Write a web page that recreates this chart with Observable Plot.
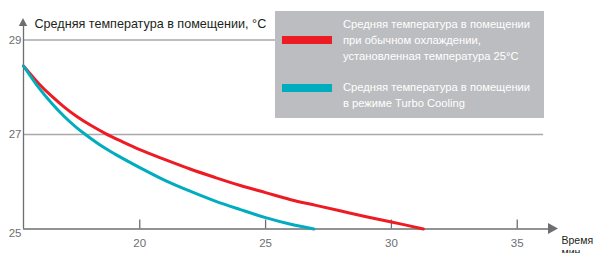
<!DOCTYPE html>
<html>
<head>
<meta charset="utf-8">
<script src="https://cdn.jsdelivr.net/npm/d3@7"></script>
<script src="https://cdn.jsdelivr.net/npm/@observablehq/plot@0.6"></script>
<style>
  html, body { margin: 0; padding: 0; background: #fff; }
  #wrap { position: relative; width: 593px; height: 253px; overflow: hidden; font-family: "Liberation Sans", sans-serif; }
  #legend { position: absolute; left: 275px; top: 11px; width: 269px; height: 107px; background: #bcbdc0; }
  .sw { position: absolute; left: 7px; width: 50px; height: 8px; }
  .lt { position: absolute; left: 68px; color: #fff; font-family: "Liberation Sans", sans-serif; font-size: 11.2px; line-height: 15.8px; white-space: nowrap; }
</style>
</head>
<body>
<div id="wrap"></div>
<script>
// ---- data ----
const timeNormal = [15.38, 16.0, 16.5, 17.0, 17.5, 18.0, 18.64, 19.3, 20.0, 21.0, 22.0, 23.0, 24.0, 25.0, 26.0, 27.0, 28.0, 29.0, 30.0, 31.27];
const tempNormal = [28.45, 28.07, 27.81, 27.58, 27.38, 27.21, 27.02, 26.85, 26.68, 26.47, 26.27, 26.09, 25.92, 25.77, 25.62, 25.50, 25.38, 25.26, 25.15, 25.0];
const timeTurbo  = [15.38, 16.0, 16.5, 17.0, 17.5, 17.84, 18.5, 19.0, 20.0, 21.0, 22.0, 23.0, 24.0, 25.0, 26.0, 26.92];
const tempTurbo  = [28.45, 27.98, 27.66, 27.38, 27.14, 27.00, 26.75, 26.59, 26.30, 26.03, 25.80, 25.59, 25.41, 25.24, 25.10, 25.0];
const xTicks = [20, 25, 30, 35];
const yGrid = [27, 29];
const yLabelsUpper = [29, 27];
const yLabelsLower = [25];
const yTitle = "Средняя температура в помещении, °C";
const xTitle = ["Время", "мин"];
const legendNormal = ["Средняя температура в помещении", "при обычном охлаждении,", "установленная температура 25°C"];
const legendTurbo = ["Средняя температура в помещении", "в режиме Turbo Cooling"];
const colorNormal = "#ed1c24";
const colorTurbo = "#00adbe";

const xMin = 15.38, xMax = 36.64, gridEnd = 36.05;
const normal = timeNormal.map((t, i) => ({t, T: tempNormal[i]}));
const turbo = timeTurbo.map((t, i) => ({t, T: tempTurbo[i]}));
const axisColor = "#6d6e71";
const gridColor = "#a7a9ac";
const font = "Liberation Sans, sans-serif";

const chart = Plot.plot({
  width: 593,
  height: 253,
  marginLeft: 23,
  marginRight: 35,
  marginTop: 39.5,
  marginBottom: 24.5,
  style: {fontFamily: font, background: "#fff", overflow: "visible"},
  x: {domain: [xMin, xMax], axis: null},
  y: {domain: [25, 29], axis: null},
  marks: [
    Plot.ruleY(yGrid, {x1: xMin, x2: gridEnd, stroke: gridColor, strokeWidth: 1.6}),
    // axis lines
    Plot.ruleX([xMin], {stroke: axisColor, strokeWidth: 1.3, insetTop: -16}),
    Plot.ruleY([25], {stroke: axisColor, strokeWidth: 1.3, insetRight: 6}),
    // x ticks + labels
    Plot.ruleX(xTicks, {y1: 25, y2: 25, insetTop: -9, stroke: axisColor, strokeWidth: 1.3}),
    Plot.text(xTicks, {x: d => d, y: 25, text: d => String(d), dy: 14, fontSize: 11.5, fill: axisColor}),
    // y labels
    Plot.text(yLabelsUpper, {x: xMin, y: d => d, text: d => String(d), textAnchor: "end", dx: -2, fontSize: 11.5, fill: axisColor}),
    Plot.text(yLabelsLower, {x: xMin, y: d => d, text: d => String(d), textAnchor: "end", dx: -2, dy: 4, fontSize: 11.5, fill: axisColor}),
    // titles
    Plot.text([yTitle], {frameAnchor: "top-left", text: d => d, dx: 11, dy: -16.5, lineAnchor: "middle", textAnchor: "start", fontSize: 12.6, fill: "#231f20"}),
    Plot.text([xTitle.join("\n")], {frameAnchor: "bottom-right", text: d => d, dx: 3, dy: 6, lineAnchor: "top", textAnchor: "start", fontSize: 10.5, lineHeight: 1.15, fill: "#231f20"}),
    // curves
    Plot.line(normal, {x: "t", y: "T", curve: "catmull-rom", stroke: colorNormal, strokeWidth: 3}),
    Plot.line(turbo, {x: "t", y: "T", curve: "catmull-rom", stroke: colorTurbo, strokeWidth: 3})
  ]
});

// arrow heads at the axis ends, positioned through the chart's own scales
const sx = chart.scale("x"), sy = chart.scale("y");
const ax = sx.apply(xMin), ayTop = sy.apply(29) - 21.5;
const bx = sx.apply(xMax), by = sy.apply(25);
const svg = d3.select(chart);
svg.append("path")
  .attr("d", `M${ax},${ayTop}L${ax + 4.2},${ayTop + 8}L${ax - 4.2},${ayTop + 8}Z`)
  .attr("fill", axisColor);
svg.append("path")
  .attr("d", `M${bx},${by}L${bx - 10},${by - 5.5}L${bx - 10},${by + 5.5}Z`)
  .attr("fill", axisColor);

const wrap = document.getElementById("wrap");
wrap.appendChild(chart);

const legend = document.createElement("div");
legend.id = "legend";
let html = `<div class="sw" style="top:25px;background:${colorNormal}"></div>`;
html += `<div class="sw" style="top:73px;background:${colorTurbo}"></div>`;
html += `<div class="lt" style="top:6px">${legendNormal.join("<br>")}</div>`;
html += `<div class="lt" style="top:69px">${legendTurbo.join("<br>")}</div>`;
legend.innerHTML = html;
wrap.appendChild(legend);
</script>
</body>
</html>
